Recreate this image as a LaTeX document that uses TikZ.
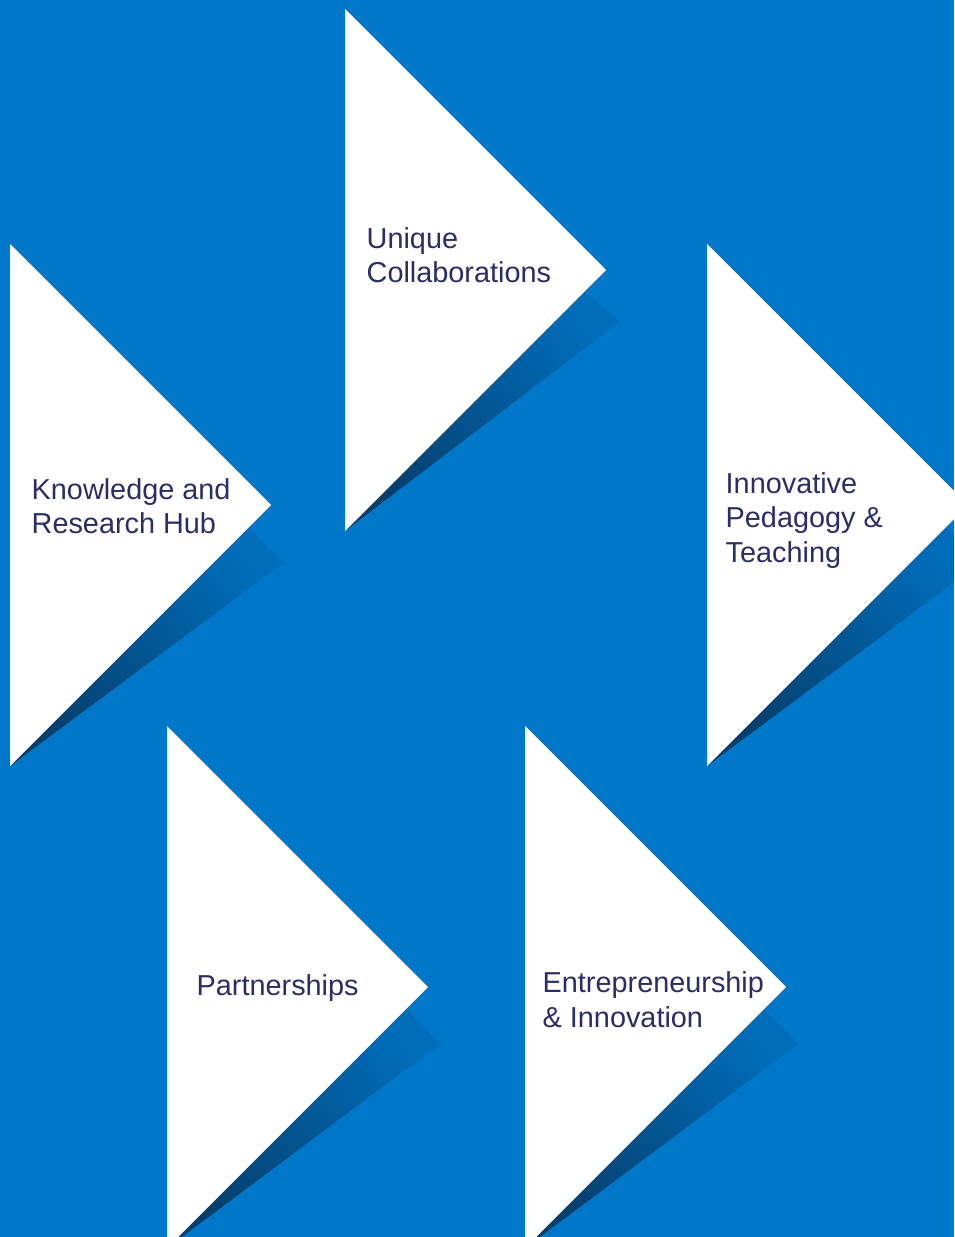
\documentclass[tikz,border=0pt]{standalone}
\usepackage{fontspec}
\setmainfont{Liberation Sans}
\usetikzlibrary{calc}
\definecolor{bgblue}{HTML}{0077C8}
\definecolor{shadowtop}{HTML}{006DBA}
\definecolor{shadowdark}{HTML}{063E6C}
\definecolor{shadowmid}{HTML}{005A9C}
\definecolor{labelnavy}{HTML}{2A2D66}
\begin{document}
\begin{tikzpicture}[x=0.01cm,y=-0.01cm]
	\tikzstyle{flap}=[white]
	\tikzstyle{fold}=[top color=shadowtop,middle color=shadowmid,bottom color=shadowdark,shading angle=-53]
	\tikzstyle{label}=[anchor=base west,inner sep=0pt,align=left,text=labelnavy,font=\fontsize{8.2}{9.7}\selectfont]
	\fill[bgblue] (0,0) rectangle (954,1237);
	\useasboundingbox (0,0) rectangle (954,1237);
	\clip (0,0) rectangle (954,1237);

	\coordinate (UCt) at (345,9);   \coordinate (UCa) at (606,270);  \coordinate (UCb) at (345,531);
	\coordinate (KRt) at (10,244);  \coordinate (KRa) at (271,505);  \coordinate (KRb) at (10,766);
	\coordinate (IPt) at (707,244); \coordinate (IPa) at (968,505);  \coordinate (IPb) at (707,766);
	\coordinate (PAt) at (167,726); \coordinate (PAa) at (428,987);  \coordinate (PAb) at (167,1248);
	\coordinate (EIt) at (525,726); \coordinate (EIa) at (786,987);  \coordinate (EIb) at (525,1248);

	% folded shadows under each arrow
	\shade[fold] ($(UCa)+(-21,21)$) -- ($(UCa)+(13,52)$) -- (UCb) -- cycle;
	\shade[fold] ($(KRa)+(-22,22)$) -- ($(KRa)+(12,58)$) -- (KRb) -- cycle;
	\shade[fold] ($(IPa)+(-22,22)$) -- ($(IPa)+(12,58)$) -- (IPb) -- cycle;
	\shade[fold] ($(PAa)+(-22,22)$) -- ($(PAa)+(12,57)$) -- (PAb) -- cycle;
	\shade[fold] ($(EIa)+(-22,22)$) -- ($(EIa)+(12,57)$) -- (EIb) -- cycle;

	\fill[flap] (UCt) -- (UCa) -- (UCb) -- cycle;
	\fill[flap] (KRt) -- (KRa) -- (KRb) -- cycle;
	\fill[flap] (IPt) -- (IPa) -- (IPb) -- cycle;
	\fill[flap] (PAt) -- (PAa) -- (PAb) -- cycle;
	\fill[flap] (EIt) -- (EIa) -- (EIb) -- cycle;

	\node[label] (UC) at (366,283) {Unique\\Collaborations};
	\node[label] (KR) at (31,534) {Knowledge and\\Research Hub};
	\node[label] (IP) at (725,562) {Innovative\\Pedagogy \&\\Teaching};
	\node[label] (PA) at (196,995) {Partnerships};
	\node[label] (EI) at (542,1027) {Entrepreneurship\\\& Innovation};
\end{tikzpicture}
\end{document}
